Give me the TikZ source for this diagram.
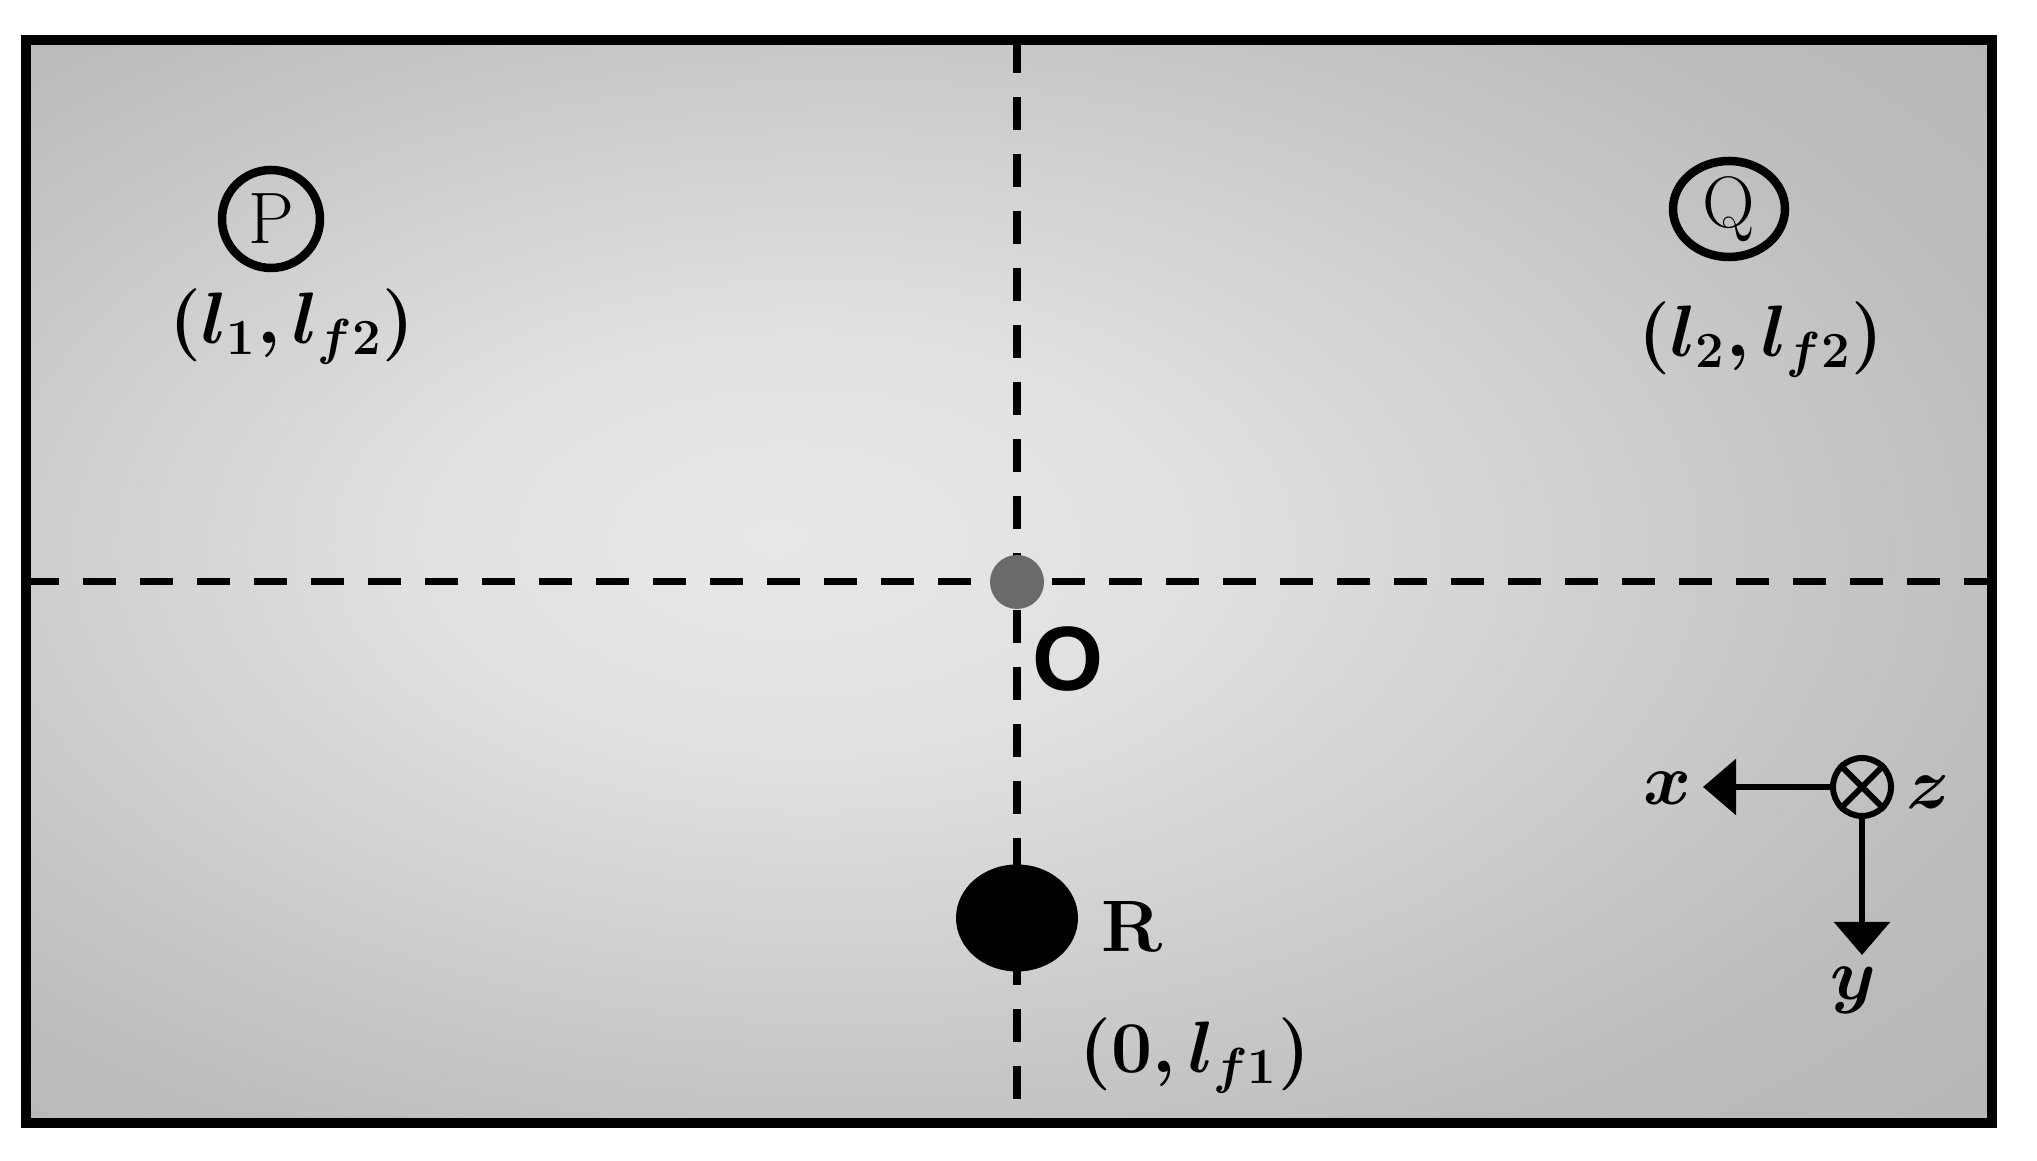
\documentclass[tikz,border=0pt]{standalone}
\usepackage{amsmath, bm}
\usepackage{fontspec}
\newfontfamily\originfont{Liberation Sans}
\usepackage{tikz}
\usetikzlibrary{arrows.meta, shapes.geometric}
\definecolor{origingray}{HTML}{6A6A6A}
\pgfdeclareradialshading{panelglow}{\pgfpoint{-6bp}{2bp}}{color(0bp)=(black!9); color(10bp)=(black!12); color(30bp)=(black!26); color(45bp)=(black!30); color(72bp)=(black!33)}

\begin{document}
\begin{tikzpicture}[>={Triangle[length=3.3mm,width=5.5mm]}]
    \tikzstyle{guide} = [line width=2pt, dash pattern=on 3.3mm off 2.4mm]
    \tikzstyle{coordtext} = [font=\fontsize{20.74}{25}\selectfont, inner sep=0pt]
    \tikzstyle{marker} = [draw, line width=0.85mm, inner sep=0pt, font=\fontsize{20.74}{25}\selectfont]
    \useasboundingbox (0,0) rectangle (20.37,11.61);
    \shade[shading=panelglow] (0.26,0.38) rectangle (19.92,11.21);
    % centre lines
    \coordinate (vtop) at (10.17,11.21);
    \coordinate (vbot) at (10.17,0.38);
    \coordinate (hleft) at (0.26,5.79);
    \coordinate (hright) at (19.92,5.79);
    \draw[guide] (vtop) -- (vbot);
    \draw[guide] (hleft) -- (hright);
    \draw[line width=1mm] (0.26,0.38) rectangle (19.92,11.21);
    \node [circle, fill=origingray, minimum size=5.4mm, inner sep=0pt] at (10.17,5.79) (origin) {};
    \node [inner sep=0pt, font=\fontsize{26}{30}\selectfont] at (10.68,5.02) (olabel) {\originfont\bfseries O};
    \node [ellipse, fill=black, minimum width=12.2mm, minimum height=10.7mm, inner sep=0pt] at (10.17,2.43) (rsource) {};
    \node [coordtext] at (11.32,2.34) (rlabel) {\bfseries R};
    \node [coordtext] at (11.95,1.05) (rpos) {$\boldsymbol{(0, l_{f1})}$};
    \node [marker, circle, minimum size=9.8mm] at (2.71,9.42) (pmark) {P};
    \node [coordtext] at (2.92,8.34) (ppos) {$\boldsymbol{(l_1, l_{f2})}$};
    \node [marker, ellipse, minimum width=11.2mm, minimum height=9.6mm] at (17.29,9.52) (qmark) {Q};
    \node [coordtext] at (17.61,8.21) (qpos) {$\boldsymbol{(l_2, l_{f2})}$};
    % axes
    \node [circle, draw, line width=0.6mm, minimum size=5.8mm, inner sep=0pt] at (18.62,3.74) (zaxis) {};
    \draw[line width=0.6mm] (zaxis.45) -- (zaxis.225) (zaxis.135) -- (zaxis.315);
    \coordinate (xtip) at (17.03,3.74);
    \coordinate (ytip) at (18.62,2.06);
    \draw[->, line width=0.6mm] (zaxis.west) -- (xtip);
    \draw[->, line width=0.6mm] (zaxis.south) -- (ytip);
    \node [coordtext] at (16.68,3.73) (xlabel) {$\boldsymbol{x}$};
    \node [coordtext] at (19.28,3.69) (zlabel) {$\boldsymbol{z}$};
    \node [coordtext] at (18.53,1.71) (ylabel) {$\boldsymbol{y}$};
\end{tikzpicture}
\end{document}
